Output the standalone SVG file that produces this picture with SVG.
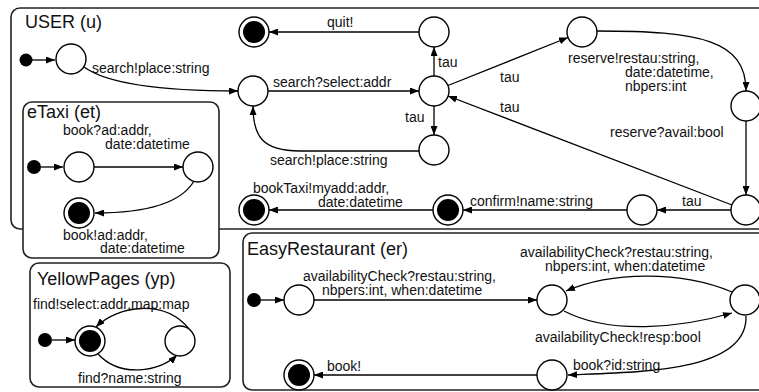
<svg xmlns="http://www.w3.org/2000/svg" width="759" height="392" viewBox="0 0 759 392">
<style>
.box{fill:#fff;stroke:#222;stroke-width:1.6}
.st{fill:#fff;stroke:#000;stroke-width:1.4}
.in{fill:#000}
.fi{fill:#000}
.e{fill:none;stroke:#000;stroke-width:1.3;marker-end:url(#ah)}
.t{font-family:"Liberation Sans",Arial,sans-serif;font-size:14px;fill:#111}
.ti{font-family:"Liberation Sans",Arial,sans-serif;font-size:18px;fill:#111}
</style>
<defs>
<marker id="ah" markerWidth="9" markerHeight="7" refX="9" refY="3.5" orient="auto" markerUnits="userSpaceOnUse">
<path d="M0,0 L9,3.5 L0,7 z" fill="#000"/>
</marker>
</defs>
<rect width="759" height="392" fill="#fff"/>

<g id="USER">
<rect class="box" x="11" y="8" width="780" height="221" rx="9"/>
<text class="ti" x="25" y="28">USER (u)</text>
</g>
<g id="eTaxi">
<rect class="box" x="23" y="102" width="196" height="156" rx="9"/>
<text class="ti" x="27" y="118">eTaxi (et)</text>
</g>
<g id="YellowPages">
<rect class="box" x="30" y="263" width="200" height="124" rx="9"/>
<text class="ti" x="37" y="285">YellowPages (yp)</text>
</g>
<g id="EasyRestaurant">
<rect class="box" x="243" y="233" width="540" height="157" rx="9"/>
<text class="ti" x="247" y="255">EasyRestaurant (er)</text>
</g>

<g id="connectors">
<!-- USER -->
<line class="e" x1="32" y1="60" x2="55" y2="60"/>
<path class="e" d="M84,67 C110,86 170,91 238,91"/>
<line class="e" x1="268" y1="91" x2="419" y2="91"/>
<line class="e" x1="434" y1="76" x2="434" y2="47"/>
<line class="e" x1="419" y1="32" x2="269" y2="32"/>
<line class="e" x1="434" y1="106" x2="434" y2="135"/>
<path class="e" d="M419,151 L300,151 C262,151 253,136 253,106"/>
<line class="e" x1="448" y1="85.5" x2="568" y2="37.5"/>
<path class="e" d="M597,31 C700,31 746,40 746,91"/>
<line class="e" x1="746" y1="121" x2="746" y2="195"/>
<line class="e" x1="732" y1="205" x2="448" y2="96"/>
<line class="e" x1="731" y1="210" x2="657" y2="210"/>
<line class="e" x1="627" y1="210" x2="463" y2="210"/>
<line class="e" x1="433" y1="210" x2="269" y2="210"/>
<!-- eTaxi -->
<line class="e" x1="41" y1="167" x2="63" y2="167"/>
<line class="e" x1="94" y1="167" x2="183" y2="167"/>
<path class="e" d="M194,181 C180,205 140,213 95,213"/>
<!-- YellowPages -->
<line class="e" x1="52" y1="340" x2="75" y2="340"/>
<path class="e" d="M189,329 C165,299 118,305 96,327"/>
<path class="e" d="M98,354 C120,378 160,372 177,355"/>
<!-- EasyRestaurant -->
<line class="e" x1="261" y1="300" x2="284" y2="300"/>
<line class="e" x1="314" y1="300" x2="537" y2="300"/>
<path class="e" d="M732,292 C680,270 610,272 566,291"/>
<path class="e" d="M564,311 C610,335 680,328 732,313"/>
<path class="e" d="M746,316 C748,372 640,372 568,375"/>
<line class="e" x1="537" y1="375" x2="314" y2="375"/>
</g>

<g id="labels">
<text class="t" x="92" y="73">search!place:string</text>
<text class="t" x="327" y="27">quit!</text>
<text class="t" x="438" y="67">tau</text>
<text class="t" x="273" y="87">search?select:addr</text>
<text class="t" x="405" y="122">tau</text>
<text class="t" x="270" y="165">search!place:string</text>
<text class="t" x="500" y="82">tau</text>
<text class="t" x="500" y="112">tau</text>
<text class="t" x="568" y="63">reserve!restau:string,</text>
<text class="t" x="625" y="77">date:datetime,</text>
<text class="t" x="625" y="91">nbpers:int</text>
<text class="t" x="610" y="137">reserve?avail:bool</text>
<text class="t" x="682" y="206">tau</text>
<text class="t" x="470" y="206">confirm!name:string</text>
<text class="t" x="253" y="193">bookTaxi!myadd:addr,</text>
<text class="t" x="318" y="207">date:datetime</text>
<text class="t" x="63" y="135">book?ad:addr,</text>
<text class="t" x="105" y="149">date:datetime</text>
<text class="t" x="63" y="240">book!ad:addr,</text>
<text class="t" x="100" y="253">date:datetime</text>
<text class="t" x="33" y="309">find!select:addr,map:map</text>
<text class="t" x="78" y="383">find?name:string</text>
<text class="t" x="303" y="281">availabilityCheck?restau:string,</text>
<text class="t" x="322" y="295">nbpers:int, when:datetime</text>
<text class="t" x="520" y="257">availabilityCheck?restau:string,</text>
<text class="t" x="545" y="271">nbpers:int, when:datetime</text>
<text class="t" x="535" y="342">availabilityCheck!resp:bool</text>
<text class="t" x="573" y="370">book?id:string</text>
<text class="t" x="327" y="371">book!</text>
</g>

<g id="u_init"><circle class="in" cx="26" cy="60" r="6.5"/></g>
<g id="u0"><circle class="st" cx="71" cy="59" r="15"/></g>
<g id="u1"><circle class="st" cx="253" cy="91" r="15"/></g>
<g id="u2"><circle class="st" cx="434" cy="91" r="15"/></g>
<g id="u3"><circle class="st" cx="434" cy="32" r="15"/></g>
<g id="u_quit"><circle class="st" cx="254" cy="32" r="15"/><circle class="fi" cx="254" cy="32" r="11"/></g>
<g id="u4"><circle class="st" cx="434" cy="150" r="15"/></g>
<g id="u5"><circle class="st" cx="582" cy="32" r="15"/></g>
<g id="u6"><circle class="st" cx="746" cy="106" r="15"/></g>
<g id="u7"><circle class="st" cx="746" cy="210" r="15"/></g>
<g id="u8"><circle class="st" cx="642" cy="210" r="15"/></g>
<g id="u9"><circle class="st" cx="448" cy="210" r="15"/><circle class="fi" cx="448" cy="210" r="11"/></g>
<g id="u10"><circle class="st" cx="254" cy="210" r="15"/><circle class="fi" cx="254" cy="210" r="11"/></g>

<g id="et_init"><circle class="in" cx="34" cy="167" r="7"/></g>
<g id="et0"><circle class="st" cx="79" cy="167" r="15"/></g>
<g id="et1"><circle class="st" cx="198" cy="167" r="15"/></g>
<g id="et2"><circle class="st" cx="79" cy="213" r="15"/><circle class="fi" cx="79" cy="213" r="11"/></g>

<g id="yp_init"><circle class="in" cx="45" cy="340" r="7"/></g>
<g id="yp0"><circle class="st" cx="90" cy="341" r="15"/><circle class="fi" cx="90" cy="341" r="11"/></g>
<g id="yp1"><circle class="st" cx="180" cy="341" r="15"/></g>

<g id="er_init"><circle class="in" cx="254" cy="300" r="7"/></g>
<g id="er0"><circle class="st" cx="299" cy="300" r="15"/></g>
<g id="er1"><circle class="st" cx="552" cy="300" r="15"/></g>
<g id="er2"><circle class="st" cx="745" cy="300" r="15"/></g>
<g id="er3"><circle class="st" cx="552" cy="375" r="15"/></g>
<g id="er4"><circle class="st" cx="299" cy="375" r="15"/><circle class="fi" cx="299" cy="375" r="11"/></g>
</svg>
